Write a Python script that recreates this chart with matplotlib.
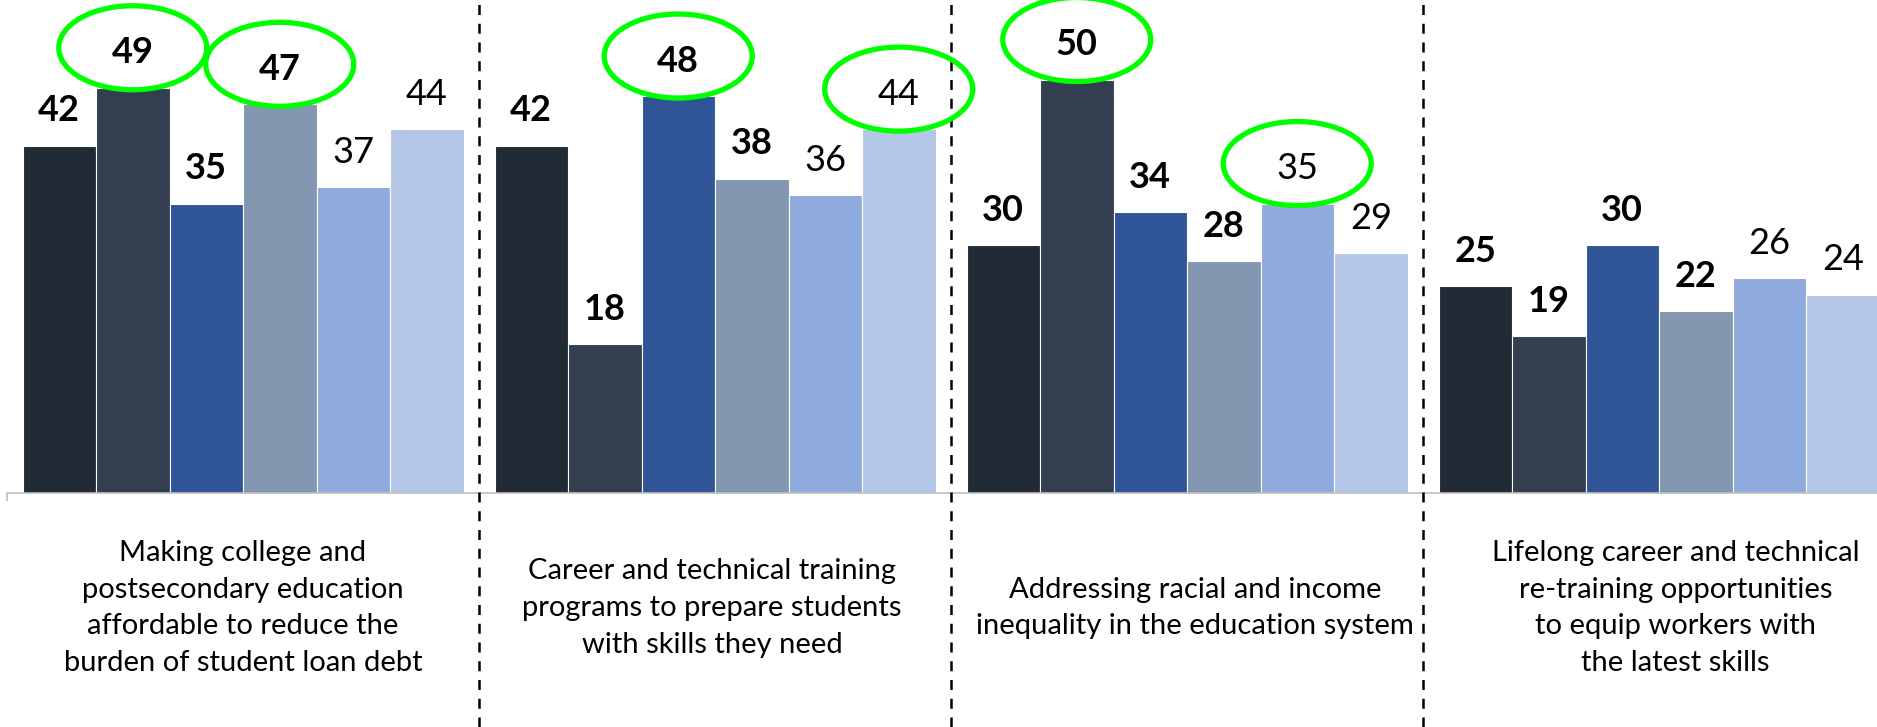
import numpy as np
import matplotlib
matplotlib.use('Agg')
import matplotlib.pyplot as plt
from matplotlib.patches import Ellipse
from matplotlib.transforms import blended_transform_factory, offset_copy

plt.rcParams['font.family'] = ['Lato', 'DejaVu Sans']

# --- data ---
categories = [
    "Making college and\npostsecondary education\naffordable to reduce the\nburden of student loan debt",
    "Career and technical training\nprograms to prepare students\nwith skills they need",
    "Addressing racial and income\ninequality in the education system",
    "Lifelong career and technical\nre-training opportunities\nto equip workers with\nthe latest skills",
]
s1 = [42, 42, 30, 25]
s2 = [49, 18, 50, 19]
s3 = [35, 48, 34, 30]
s4 = [47, 38, 28, 22]
s5 = [37, 36, 35, 26]
s6 = [44, 44, 29, 24]
series = [s1, s2, s3, s4, s5, s6]
bold_series = [True, True, True, True, False, False]
# (category, series) pairs circled in green
highlight = [(0, 1), (0, 3), (1, 2), (1, 5), (2, 1), (2, 4)]

colors = ['#222a35', '#333f50', '#2f5597', '#8497b0', '#8faadc', '#b4c7e7']

W, H = 1877, 727
fig = plt.figure(figsize=(W / 100, H / 100), dpi=100)
base_px = 493
ax = fig.add_axes([7 / W, (H - base_px) / H, (W - 7) / W, base_px / H])

px_per_unit = 8.27
cat_px = 472
ax.set_xlim(-0.5, -0.5 + (W - 7) / cat_px)
ax.set_ylim(0, base_px / px_per_unit)

x = np.arange(len(categories))
group_w = 441 / cat_px
bw = group_w / len(series)

for j, vals in enumerate(series):
    xs = x + (j - (len(series) - 1) / 2) * bw
    ax.bar(xs, vals, width=bw, color=colors[j], edgecolor='white', linewidth=0.8)
    for xi, v in zip(xs, vals):
        ax.annotate(str(v), (xi, v), xytext=(0, 17.5), textcoords='offset points',
                    ha='center', va='baseline', fontsize=26,
                    fontweight='bold' if bold_series[j] else 'normal', color='black')

# green ellipses
for ci, sj in highlight:
    xc = ci + (sj - (len(series) - 1) / 2) * bw
    yc = series[sj][ci] + 40 / px_per_unit
    ax.add_patch(Ellipse((xc, yc), 148 / cat_px, 84 / px_per_unit, fill=False,
                         edgecolor='#00ff00', linewidth=3.8, clip_on=False, zorder=5))

# axis styling
for s in ['top', 'right', 'left']:
    ax.spines[s].set_visible(False)
ax.spines['bottom'].set_color('#bfbfbf')
ax.spines['bottom'].set_linewidth(1.2)
ax.set_yticks([])
ax.set_xticks(np.arange(-0.5, len(categories) - 0.5, 1))
ax.tick_params(axis='x', direction='out', length=6, color='#bfbfbf', width=1.2, labelbottom=False)

# dashed separators spanning the full height
trans = blended_transform_factory(ax.transData, fig.transFigure)
for b in np.arange(0.5, len(categories) - 1, 1):
    ax.plot([b, b], [0, 1], transform=trans, color='black', linestyle=(0, (4, 3.5)),
            linewidth=1.8, clip_on=False, zorder=4)

# category labels
label_dx = [0, -2, 6, 12]  # points, small nudges as in the original layout
for i, lab in enumerate(categories):
    t = offset_copy(trans, fig=fig, x=label_dx[i], y=0, units='points')
    ax.text(i, 1 - 608 / H, lab, transform=t, ha='center', va='center',
            multialignment='center', fontsize=21, linespacing=1.5, color='black')

fig.savefig('out.png', dpi=100)
